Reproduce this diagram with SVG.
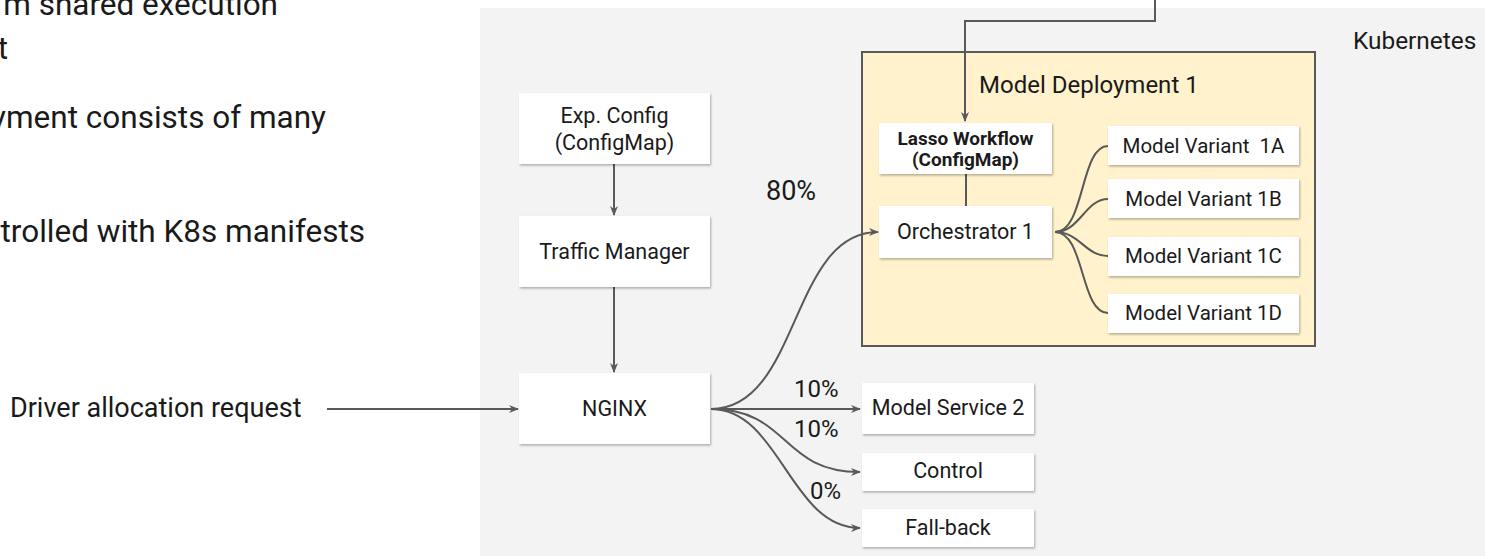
<svg xmlns="http://www.w3.org/2000/svg" width="1485" height="556" viewBox="0 0 1485 556">
  <style>
    .t { font-family: Roboto, "Liberation Sans", sans-serif; fill: #1a1a1a; }
    .box { fill: #ffffff; filter: url(#sh); }
    .lbl { font-size: 21.5px; text-anchor: middle; }
    .var { font-size: 20.5px; text-anchor: middle; }
    .pct { font-size: 24px; }
    .line { fill: none; stroke: #595959; stroke-width: 2; }
    .arr { marker-end: url(#ah); }
  </style>
  <defs>
    <filter id="sh" x="-10%" y="-10%" width="130%" height="140%">
      <feDropShadow dx="1" dy="1.5" stdDeviation="1" flood-color="#000" flood-opacity="0.3"/>
    </filter>
    <marker id="ah" viewBox="0 0 10 8" refX="9" refY="4" markerWidth="10" markerHeight="8" markerUnits="userSpaceOnUse" orient="auto">
      <path d="M0,0 L10,4 L0,8 L3,4 z" fill="#595959"/>
    </marker>
  </defs>

  <rect width="1485" height="556" fill="#ffffff"/>
  <rect id="kubernetes-bg" x="480" y="8" width="1005" height="548" fill="#f3f3f3"/>

  <g id="left-text">
    <text class="t" x="278" y="15" font-size="31.5" text-anchor="end">m shared execution</text>
    <text class="t" x="8" y="59" font-size="31.5" text-anchor="end">t</text>
    <text class="t" x="326" y="128" font-size="31.5" text-anchor="end">yment consists of many</text>
    <text class="t" x="365" y="242" font-size="31.5" text-anchor="end">trolled with K8s manifests</text>
  </g>

  <g id="kubernetes-label">
    <text class="t" x="1353" y="49" font-size="24.4">Kubernetes</text>
  </g>

  <g id="model-deployment-1">
    <rect x="862" y="52" width="453" height="294" fill="#fff2cc" stroke="#595959" stroke-width="2"/>
    <text class="t" x="979" y="93" font-size="24">Model Deployment 1</text>
  </g>

  <g id="driver-request">
    <text class="t" x="10" y="417" font-size="27">Driver allocation request</text>
  </g>

  <g id="connectors">
    <path class="line arr" d="M1155,0 V21 H965 V121"/>
    <path class="line" d="M966,174 V206"/>
    <path class="line arr" d="M614,164 V215"/>
    <path class="line arr" d="M614,287 V372"/>
    <path class="line arr" d="M327,409 H518"/>
    <path class="line arr" d="M711,409 C800,409 790,232 878,232"/>
    <path class="line arr" d="M711,409 H860"/>
    <path class="line arr" d="M711,409 C790,409 780,472 860,472"/>
    <path class="line arr" d="M711,409 C780,409 790,528 860,528"/>
    <path class="line" d="M1055,232 C1085,232 1080,146 1108,146"/>
    <path class="line" d="M1055,232 C1080,232 1085,199 1108,199"/>
    <path class="line" d="M1055,232 C1080,232 1085,256 1108,256"/>
    <path class="line" d="M1055,232 C1085,232 1080,313 1108,313"/>
  </g>

  <g id="pct-labels">
    <text class="t" x="766" y="200" font-size="27">80%</text>
    <text class="t pct" x="794" y="397">10%</text>
    <text class="t pct" x="794" y="437">10%</text>
    <text class="t pct" x="810" y="499">0%</text>
  </g>

  <g id="exp-config">
    <rect class="box" x="519" y="93" width="191" height="71"/>
    <text class="t lbl" x="614.5" y="123">Exp. Config</text>
    <text class="t lbl" x="614.5" y="150">(ConfigMap)</text>
  </g>

  <g id="traffic-manager">
    <rect class="box" x="519" y="216" width="191" height="71"/>
    <text class="t lbl" x="614.5" y="259">Traffic Manager</text>
  </g>

  <g id="nginx">
    <rect class="box" x="519" y="373" width="191" height="71"/>
    <text class="t lbl" x="614.5" y="416">NGINX</text>
  </g>

  <g id="lasso-workflow">
    <rect class="box" x="879" y="123" width="173" height="51"/>
    <text class="t" x="965.5" y="145" font-size="19" font-weight="bold" text-anchor="middle">Lasso Workflow</text>
    <text class="t" x="965.5" y="166" font-size="19" font-weight="bold" text-anchor="middle">(ConfigMap)</text>
  </g>

  <g id="orchestrator-1">
    <rect class="box" x="879" y="206" width="173" height="52"/>
    <text class="t lbl" x="965.5" y="239">Orchestrator 1</text>
  </g>

  <g id="model-variant-1a">
    <rect class="box" x="1108" y="126" width="191" height="39"/>
    <text class="t var" x="1203.5" y="153" xml:space="preserve">Model Variant  1A</text>
  </g>
  <g id="model-variant-1b">
    <rect class="box" x="1108" y="179" width="191" height="39"/>
    <text class="t var" x="1203.5" y="206">Model Variant 1B</text>
  </g>
  <g id="model-variant-1c">
    <rect class="box" x="1108" y="237" width="191" height="39"/>
    <text class="t var" x="1203.5" y="263">Model Variant 1C</text>
  </g>
  <g id="model-variant-1d">
    <rect class="box" x="1108" y="294" width="191" height="39"/>
    <text class="t var" x="1203.5" y="320">Model Variant 1D</text>
  </g>

  <g id="model-service-2">
    <rect class="box" x="862" y="383" width="172" height="51"/>
    <text class="t lbl" x="948" y="415">Model Service 2</text>
  </g>
  <g id="control">
    <rect class="box" x="862" y="453" width="172" height="38"/>
    <text class="t lbl" x="948" y="478">Control</text>
  </g>
  <g id="fall-back">
    <rect class="box" x="862" y="509" width="172" height="38"/>
    <text class="t lbl" x="948" y="535">Fall-back</text>
  </g>
</svg>
